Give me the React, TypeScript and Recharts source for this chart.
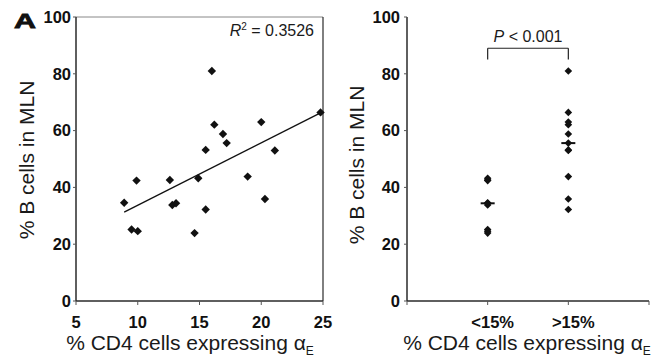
import React from 'react';
import { ScatterChart, Scatter, XAxis, YAxis, ReferenceLine, Label } from 'recharts';

// ---- data ----
const cd4Expressing = [16.0, 16.2, 16.9, 17.2, 15.5, 20.0, 21.1, 24.8, 8.9, 9.9, 9.5, 10.0, 12.6, 12.8, 13.1, 14.9, 15.5, 14.6, 18.9, 20.3];
const bCellsMLN = [81.0, 62.1, 58.8, 55.6, 53.2, 63.0, 53.0, 66.4, 34.6, 42.4, 25.2, 24.6, 42.6, 33.8, 34.4, 43.2, 32.2, 23.9, 43.8, 35.9];
const threshold = 15;
const groupLabels = ['<15%', '>15%'];
const groupMedians = [34.4, 55.6];
const trendSlope = 2.2;
const trendIntercept = 11.7;
const rSquared = '0.3526';
const pText = 'P';
const pValue = '< 0.001';
const bracketTop = 89;
const bracketBottom = 85;
const xTicksLeft = [5, 10, 15, 20, 25];
const yTicks = [0, 20, 40, 60, 80, 100];
const xTicksRight = [0, 1, 2, 3];

const FONT = '"Liberation Sans", Arial, Helvetica, sans-serif';

const scatterData = cd4Expressing.map((x, i) => ({ x, y: bCellsMLN[i] }));
const lowGroup = scatterData.filter((d) => d.x < threshold).map((d) => ({ x: 1, y: d.y }));
const highGroup = scatterData.filter((d) => d.x >= threshold).map((d) => ({ x: 2, y: d.y }));
const medianData = groupMedians.map((y, i) => ({ x: i + 1, y }));
const xMin = Math.min(...cd4Expressing);
const xMax = Math.max(...cd4Expressing);
const trendSegment = [
  { x: xMin, y: trendSlope * xMin + trendIntercept },
  { x: xMax, y: trendSlope * xMax + trendIntercept },
];

const Diamond = (r: number) => (props: any) => {
  const { cx, cy } = props;
  if (cx == null || cy == null) return <g />;
  return (
    <polygon
      points={`${cx},${cy - r} ${cx + r},${cy} ${cx},${cy + r} ${cx - r},${cy}`}
      fill="#111"
      stroke="none"
    />
  );
};

const MedianBar = (props: any) => {
  const { cx, cy } = props;
  if (cx == null || cy == null) return <g />;
  return <line x1={cx - 7} x2={cx + 7} y1={cy} y2={cy} stroke="#111" strokeWidth={2} />;
};

const tickStyle = { fontSize: 16.5, fontWeight: 700, fill: '#111', fontFamily: FONT };
const axisLineStyle = { stroke: '#2a2a2a', strokeWidth: 1.5 };
const tickLineStyle = { stroke: '#555', strokeWidth: 1 };

const XTitle = (cx: number) => () => (
  <text x={cx} y={350} textAnchor="middle" fontSize={21} fontFamily={FONT} fill="#1a1a1a">
    % CD4 cells expressing α
    <tspan fontSize={12} dy={5}>E</tspan>
  </text>
);

const YTitle = (cx: number, cy: number, withPanel: boolean) => () => (
  <g>
    <text
      x={cx}
      y={cy}
      transform={`rotate(-90, ${cx}, ${cy})`}
      textAnchor="middle"
      dominantBaseline="central"
      fontSize={21}
      fontFamily={FONT}
      fill="#1a1a1a"
    >
      % B cells in MLN
    </text>
    {withPanel && (
      <text
        x={14}
        y={28}
        fontSize={21}
        fontWeight={700}
        fontFamily={FONT}
        fill="#111"
        stroke="#111"
        strokeWidth={0.8}
        textLength={22}
        lengthAdjust="spacingAndGlyphs"
      >
        A
      </text>
    )}
  </g>
);

const RSquaredLabel = (props: any) => {
  const vb = props.viewBox || {};
  const right = (vb.x || 0) + (vb.width || 0) - 9;
  return (
    <text x={right} y={36} textAnchor="end" fontSize={16} fontFamily={FONT} fill="#1a1a1a">
      <tspan fontStyle="italic">R</tspan>
      <tspan fontSize={10} dy={-6}>2</tspan>
      <tspan dy={6}> = {rSquared}</tspan>
    </text>
  );
};

const PLabel = (props: any) => {
  const vb = props.viewBox || {};
  const cx = (vb.x || 0) + (vb.width || 0) / 2;
  return (
    <text x={cx} y={(vb.y || 0) - 6.5} textAnchor="middle" fontSize={16} fontFamily={FONT} fill="#1a1a1a">
      <tspan fontStyle="italic">{pText}</tspan> {pValue}
    </text>
  );
};

export default function App() {
  return (
    <div style={{ position: 'absolute', left: 0, top: 0, width: 654, height: 359, background: '#fff' }}>
      <div style={{ position: 'absolute', left: 0, top: 0 }}>
        <ScatterChart width={340} height={359} margin={{ top: 17, right: 17, bottom: 0, left: 0 }}>
          <XAxis
            type="number"
            dataKey="x"
            domain={[5, 25]}
            ticks={xTicksLeft}
            height={58}
            tickSize={4}
            tickMargin={11}
            tick={tickStyle}
            axisLine={axisLineStyle}
            tickLine={tickLineStyle}
            interval={0}
          >
            <Label content={XTitle(190)} />
          </XAxis>
          <YAxis
            type="number"
            dataKey="y"
            domain={[0, 100]}
            ticks={yTicks}
            width={76}
            tickSize={3}
            tickMargin={2}
            tick={tickStyle}
            axisLine={axisLineStyle}
            tickLine={tickLineStyle}
            interval={0}
          >
            <Label content={YTitle(26, 160, true)} />
          </YAxis>
          <ReferenceLine y={100} stroke="#888" strokeWidth={1}>
            <Label content={RSquaredLabel} />
          </ReferenceLine>
          <ReferenceLine x={25} stroke="#2a2a2a" strokeWidth={1.2} />
          <ReferenceLine segment={trendSegment} stroke="#111" strokeWidth={1.3} />
          <Scatter data={scatterData} shape={Diamond(4.2)} isAnimationActive={false} />
        </ScatterChart>
      </div>
      <div style={{ position: 'absolute', left: 340, top: 0 }}>
        <ScatterChart width={314} height={359} margin={{ top: 17, right: 5, bottom: 0, left: 0 }}>
          <XAxis
            type="number"
            dataKey="x"
            domain={[0, 3]}
            ticks={xTicksRight}
            height={58}
            tickSize={4}
            tickMargin={11}
            tick={{ ...tickStyle, dx: 5 }}
            tickFormatter={(v: number) => (v >= 1 && v <= groupLabels.length ? groupLabels[v - 1] : '')}
            axisLine={axisLineStyle}
            tickLine={tickLineStyle}
            interval={0}
          >
            <Label content={XTitle(187)} />
          </XAxis>
          <YAxis
            type="number"
            dataKey="y"
            domain={[0, 100]}
            ticks={yTicks}
            width={67}
            tickSize={3}
            tickMargin={4}
            tick={tickStyle}
            axisLine={axisLineStyle}
            tickLine={tickLineStyle}
            interval={0}
          >
            <Label content={YTitle(16, 165, false)} />
          </YAxis>
          <ReferenceLine
            segment={[{ x: 1, y: bracketTop }, { x: 2, y: bracketTop }]}
            stroke="#222"
            strokeWidth={1.2}
          >
            <Label content={PLabel} />
          </ReferenceLine>
          <ReferenceLine segment={[{ x: 1, y: bracketBottom }, { x: 1, y: bracketTop }]} stroke="#222" strokeWidth={1.2} />
          <ReferenceLine segment={[{ x: 2, y: bracketBottom }, { x: 2, y: bracketTop }]} stroke="#222" strokeWidth={1.2} />
          <Scatter data={lowGroup} shape={Diamond(3.8)} isAnimationActive={false} />
          <Scatter data={highGroup} shape={Diamond(3.8)} isAnimationActive={false} />
          <Scatter data={medianData} shape={MedianBar} isAnimationActive={false} />
        </ScatterChart>
      </div>
    </div>
  );
}
